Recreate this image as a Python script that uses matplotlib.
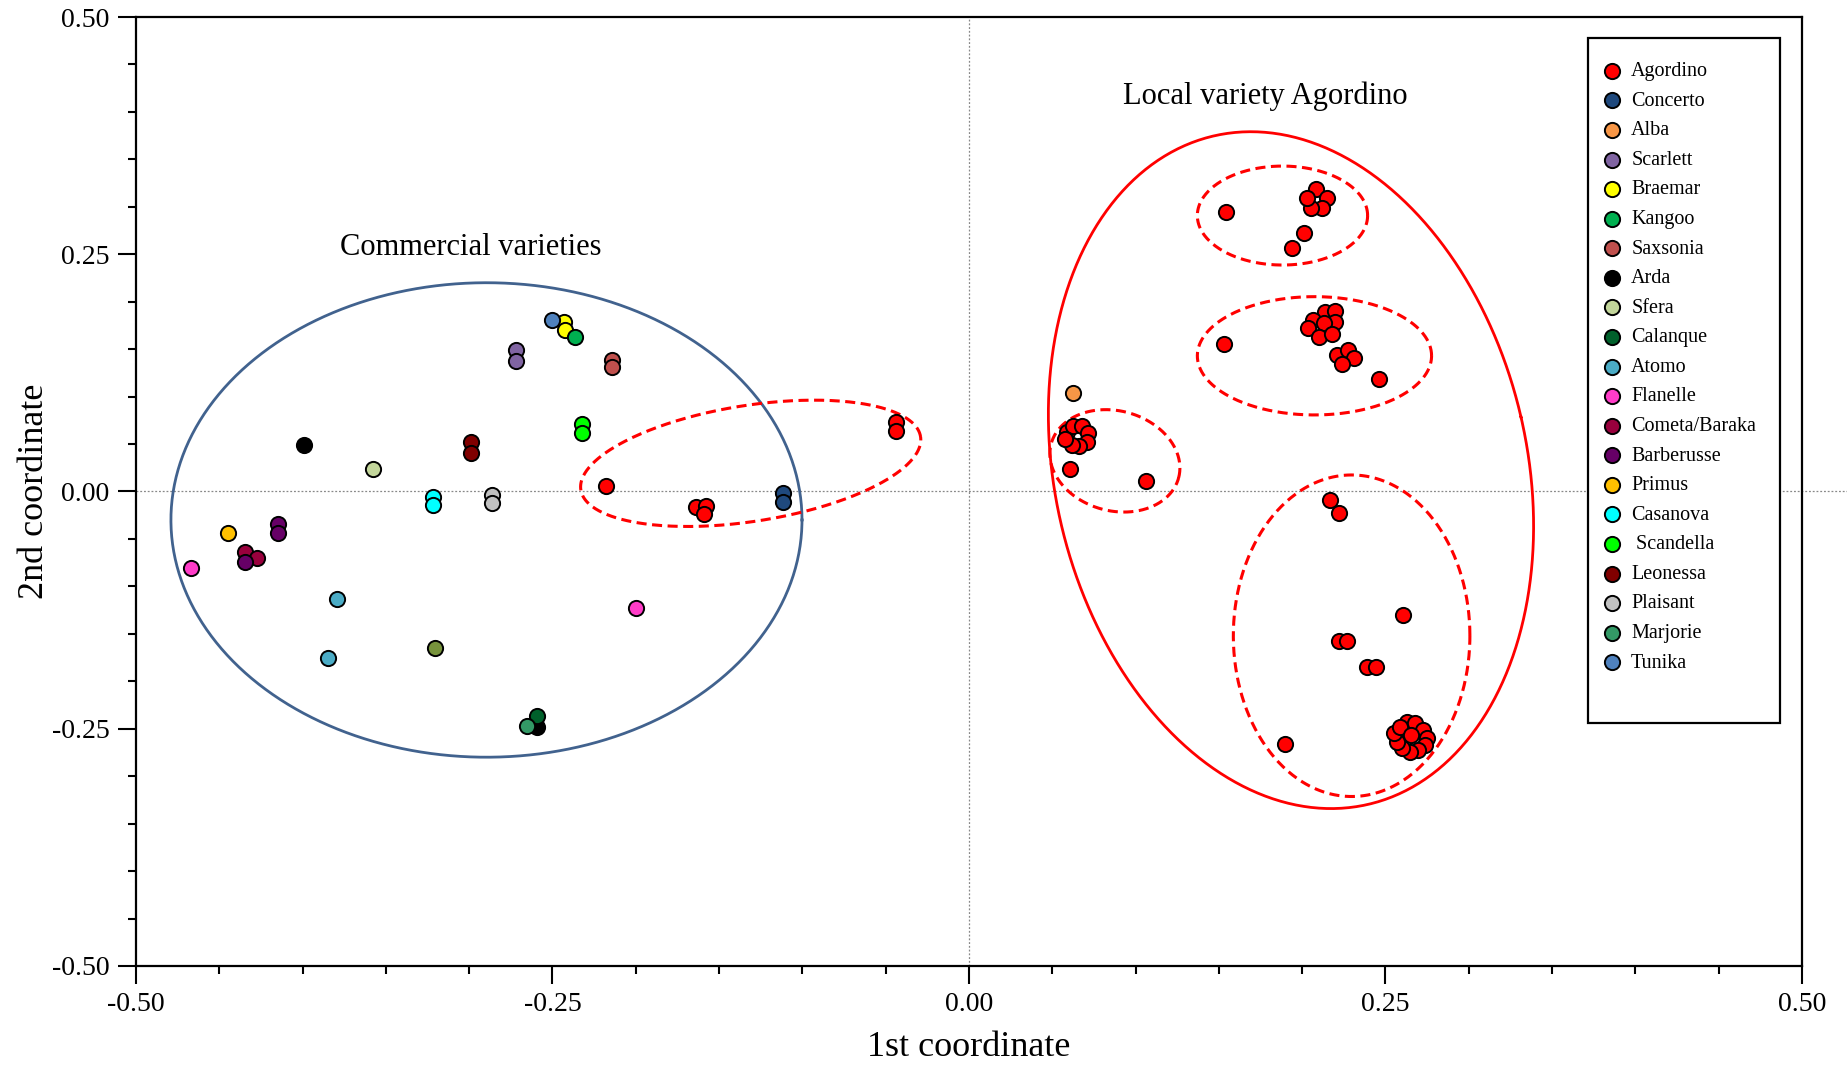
import numpy as np
import matplotlib
matplotlib.use("Agg")
import matplotlib.pyplot as plt
from matplotlib.lines import Line2D

plt.rcParams['font.family'] = ['Liberation Serif', 'DejaVu Serif']
plt.rcParams['axes.unicode_minus'] = False

# --- data ---
varieties = ["Agordino", "Concerto", "Alba", "Scarlett", "Braemar", "Kangoo",
             "Saxsonia", "Arda", "Sfera", "Calanque", "Atomo", "Flanelle",
             "Cometa/Baraka", "Barberusse", "Primus", "Casanova", " Scandella",
             "Leonessa", "Plaisant", "Marjorie", "Tunika"]
colors = ["#FF0000", "#1F497D", "#F79646", "#8064A2", "#FFFF00", "#00B050",
          "#C0504D", "#000000", "#C3D69B", "#00602B", "#4BACC6", "#FF3CC8",
          "#99003D", "#660066", "#FFC000", "#00FFFF", "#00FF00",
          "#800000", "#C0C0C0", "#339966", "#4F81BD"]

agordino_x = [-0.218, -0.164, -0.158, -0.159, -0.0438, -0.0438,
              0.0586, 0.0622, 0.0676, 0.0716, 0.0706, 0.0662, 0.0616, 0.0576,
              0.0606, 0.1063,
              0.1543, 0.2083, 0.2147, 0.2117, 0.2053, 0.2027, 0.2011, 0.194,
              0.1529, 0.2137, 0.2197, 0.2067, 0.2197, 0.2131, 0.2037, 0.2102, 0.2177,
              0.2207, 0.2273, 0.2311, 0.2239, 0.2463,
              0.2167, 0.2223, 0.2607, 0.2223, 0.2267, 0.2391, 0.2443, 0.1897,
              0.2627, 0.2677, 0.2727, 0.2747, 0.2737, 0.2697, 0.2647, 0.2597,
              0.2567, 0.2551, 0.2587, 0.2651]
agordino_y = [0.0058, -0.016, -0.0153, -0.024, 0.0729, 0.0637,
              0.063, 0.069, 0.069, 0.062, 0.0525, 0.0479, 0.049, 0.055,
              0.024, 0.0114,
              0.2945, 0.3184, 0.3096, 0.2984, 0.2984, 0.3096, 0.2721, 0.2569,
              0.1554, 0.1895, 0.1905, 0.1807, 0.1789, 0.1772, 0.172, 0.1631, 0.166,
              0.1438, 0.1491, 0.1404, 0.134, 0.1182,
              -0.009, -0.023, -0.1301, -0.1575, -0.1575, -0.185, -0.185, -0.2664,
              -0.2426, -0.2443, -0.2513, -0.2601, -0.2671, -0.2724, -0.2742, -0.2706,
              -0.2637, -0.2548, -0.2478, -0.2566]

pc1 = [agordino_x,
       [-0.1118, -0.1118], [0.0622], [-0.272, -0.272], [-0.243, -0.2425],
       [-0.2365], [-0.214, -0.214], [-0.399, -0.259], [-0.358], [-0.259],
       [-0.3795, -0.385], [-0.467, -0.1999], [-0.4346, -0.4272],
       [-0.4148, -0.4148, -0.4346], [-0.4446], [-0.3215, -0.3215],
       [-0.232, -0.232], [-0.2987, -0.2987], [-0.286, -0.286], [-0.2655],
       [-0.2505]]
pc2 = [agordino_y,
       [-0.0019, -0.0107], [0.1035], [0.149, 0.138], [0.179, 0.170],
       [0.1625], [0.1386, 0.131], [0.0487, -0.248], [0.0237], [-0.2366],
       [-0.113, -0.175], [-0.081, -0.1224], [-0.0634, -0.0698],
       [-0.0342, -0.0441, -0.074], [-0.0434], [-0.006, -0.0142],
       [0.071, 0.0613], [0.0525, 0.0409], [-0.0037, -0.0118], [-0.247],
       [0.1807]]

# one sample with no legend entry
extra_x = [-0.3203]
extra_y = [-0.165]

# group outlines: centre x, centre y, semi-axis a, semi-axis b (x units), angle deg
groups = [
    (-0.2896, -0.030, 0.1894, 0.1424, 0.0, "#41628E", "-"),
    (0.1933, 0.0225, 0.1417, 0.2059, 13.0, "#FF0000", "-"),
    (-0.131, 0.0297, 0.1032, 0.0348, 8.9, "#FF0000", "--"),
    (0.1882, 0.2908, 0.0511, 0.0297, 0.0, "#FF0000", "--"),
    (0.2074, 0.143, 0.0703, 0.0355, 0.0, "#FF0000", "--"),
    (0.0876, 0.0323, 0.0396, 0.030, -15.0, "#FF0000", "--"),
    (0.2297, -0.152, 0.0710, 0.0965, 0.0, "#FF0000", "--"),
]

fig = plt.figure(figsize=(18.47, 10.65), dpi=100)
ax = fig.add_axes([0.0736, 0.093, 0.902, 0.891])
ax.set_xlim(-0.5, 0.5)
ax.set_ylim(-0.5, 0.5)

# aspect factor between x and y units on screen
k = (18.47 * 0.902) / (10.65 * 0.891)
t = np.linspace(0, 2 * np.pi, 400)
for cx, cy, a, b, ang, col, ls in groups:
    th = np.radians(ang)
    u = a * np.cos(t)
    v = b * np.sin(t)
    ex = cx + u * np.cos(th) - v * np.sin(th)
    ey = cy + (u * np.sin(th) + v * np.cos(th)) * k
    if ls == "--":
        ax.plot(ex, ey, color=col, lw=2.2, linestyle=(0, (3.3, 1.8)), zorder=2)
    else:
        ax.plot(ex, ey, color=col, lw=2.0, zorder=2)

ax.plot([-0.5, 0.527], [0, 0], color="#888888", lw=0.9, ls=(0, (1.5, 1.5)), clip_on=False, zorder=1)
ax.axvline(0, color="#888888", lw=0.9, ls=(0, (1.5, 1.5)), zorder=1)

handles = []
for name, col, xs, ys in zip(varieties, colors, pc1, pc2):
    h = ax.scatter(xs, ys, s=120, c=col, edgecolors="black", linewidths=1.4,
                   zorder=3, label=name)
    handles.append(h)
ax.scatter(extra_x, extra_y, s=120, c="#77933C", edgecolors="black", linewidths=1.4, zorder=3)

# empty row keeps the extra space at the bottom of the legend box
blank = Line2D([], [], linestyle="none", label="")
leg = ax.legend(handles=handles + [blank], loc="upper left",
                bbox_to_anchor=(0.8715, 0.978), borderaxespad=0,
                fontsize=14.5, labelspacing=0.52, handletextpad=0.95,
                handlelength=0.0, borderpad=1.2, scatterpoints=1,
                fancybox=False, framealpha=1, edgecolor="black")
leg.get_frame().set_linewidth(1.6)
leg.get_texts()[-1].set_fontsize(8)

ax.text(-0.299, 0.257, "Commercial varieties", fontsize=22, ha="center", va="center")
ax.text(0.178, 0.416, "Local variety Agordino", fontsize=22, ha="center", va="center")

ax.set_xticks([-0.5, -0.25, 0, 0.25, 0.5])
ax.set_yticks([-0.5, -0.25, 0, 0.25, 0.5])
ax.set_xticks(np.arange(-0.5, 0.51, 0.05), minor=True)
ax.set_yticks(np.arange(-0.5, 0.51, 0.05), minor=True)
ax.set_xticklabels(["-0.50", "-0.25", "0.00", "0.25", "0.50"])
ax.set_yticklabels(["-0.50", "-0.25", "0.00", "0.25", "0.50"])
ax.tick_params(which="major", direction="out", length=13, width=1.5, labelsize=20, pad=6)
ax.tick_params(which="minor", direction="out", length=6, width=1.5)
for s in ax.spines.values():
    s.set_linewidth(1.6)

ax.set_xlabel("1st coordinate", fontsize=26, labelpad=10)
ax.set_ylabel("2nd coordinate", fontsize=26, labelpad=0.5)

fig.savefig("out.png", dpi=100)
